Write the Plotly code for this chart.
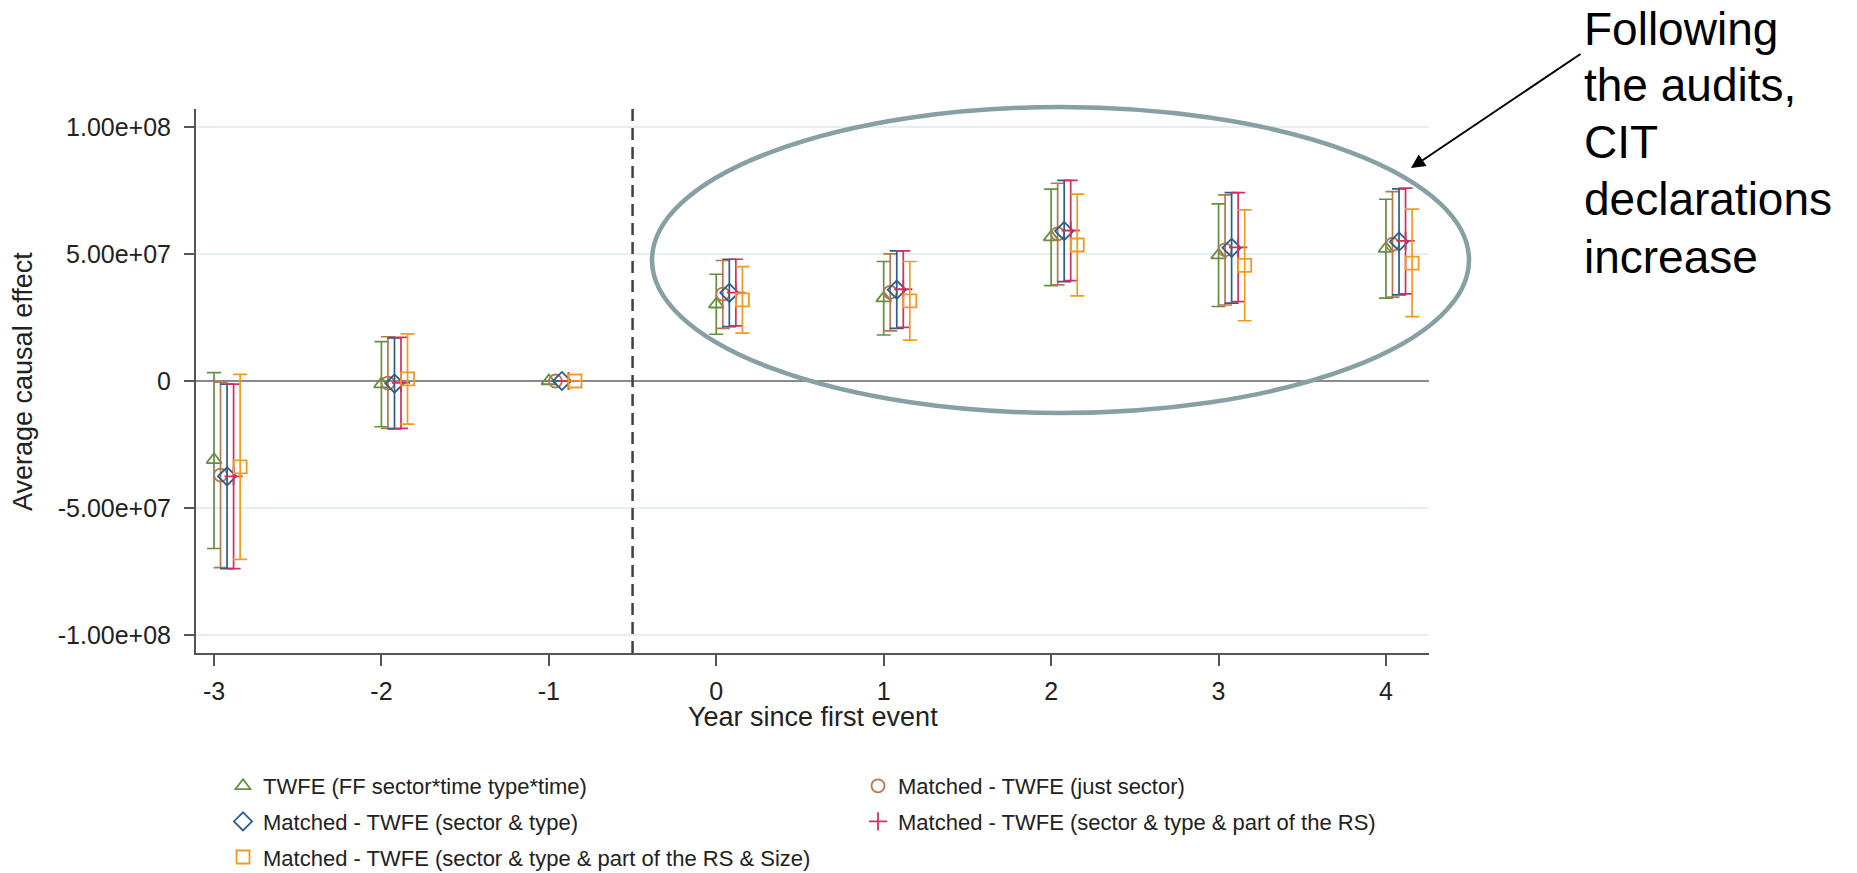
import plotly.graph_objects as go

# ---------------- data (values in millions) ----------------
years = [-3, -2, -1, 0, 1, 2, 3, 4]

names = [
    "TWFE (FF sector*time type*time)",
    "Matched - TWFE (just sector)",
    "Matched - TWFE (sector & type)",
    "Matched - TWFE (sector & type & part of the RS)",
    "Matched - TWFE (sector & type & part of the RS & Size)",
]

twfe_coef = [-31.0, -1.2, 0.0, 30.2, 32.6, 56.6, 49.5, 52.1]
twfe_lo = [-65.9, -18.0, 0.0, 18.4, 18.1, 37.5, 29.3, 32.6]
twfe_hi = [3.3, 15.5, 0.0, 42.0, 47.0, 75.5, 69.7, 71.5]

sector_coef = [-37.0, -0.8, 0.0, 34.2, 34.9, 57.9, 51.6, 53.8]
sector_lo = [-73.4, -18.6, 0.0, 20.7, 19.7, 37.8, 29.9, 33.0]
sector_hi = [-0.5, 17.4, 0.0, 47.4, 50.0, 77.8, 73.2, 74.5]

type_coef = [-37.5, -1.0, 0.0, 34.7, 35.9, 59.0, 52.4, 54.8]
type_lo = [-73.8, -18.8, 0.0, 21.4, 20.7, 39.1, 30.6, 33.9]
type_hi = [-1.2, 17.0, 0.0, 47.9, 51.2, 78.9, 74.1, 75.6]

rs_coef = [-37.5, -0.7, 0.0, 34.8, 36.1, 59.2, 52.6, 55.1]
rs_lo = [-73.8, -18.6, 0.0, 21.7, 21.1, 39.5, 31.2, 34.3]
rs_hi = [-1.2, 17.2, 0.0, 47.9, 51.2, 78.9, 74.1, 75.9]

size_coef = [-33.8, 0.8, 0.0, 31.9, 31.5, 53.5, 45.5, 46.4]
size_lo = [-70.2, -17.0, 0.0, 18.8, 16.1, 33.5, 23.7, 25.3]
size_hi = [2.6, 18.5, 0.0, 45.0, 47.0, 73.5, 67.3, 67.6]

y_tickvals = [-1e8, -5e7, 0, 5e7, 1e8]
y_ticktext = ["-1.00e+08", "-5.00e+07", "0", "5.00e+07", "1.00e+08"]
x_tickvals = [-3, -2, -1, 0, 1, 2, 3, 4]
x_ticktext = ["-3", "-2", "-1", "0", "1", "2", "3", "4"]

event_line_x = -0.5
annotation_lines = ["Following", "the audits,", "CIT", "declarations", "increase"]

# ---------------- style ----------------
UNIT = 1e6
W, H = 1857, 873
ML, MR, MT, MB = 196, 428, 109, 220
PW, PH = W - ML - MR, H - MT - MB

colors = ["#62903f", "#b57752", "#2e5c8c", "#d42f5c", "#f29a22"]
symbols = ["triangle-up-open", "circle-open", "diamond-open", "cross-thin-open", "square-open"]
msizes = [13, 13, 14, 13, 13]
dodge = [0.0, 0.039, 0.078, 0.117, 0.156]
legend_of = ["legend", "legend2", "legend", "legend2", "legend"]

coefs = [twfe_coef, sector_coef, type_coef, rs_coef, size_coef]
los = [twfe_lo, sector_lo, type_lo, rs_lo, size_lo]
his = [twfe_hi, sector_hi, type_hi, rs_hi, size_hi]


def px_x(p):
    return (p - ML) / PW


def px_y(p):
    return (H - MB - p) / PH


fig = go.Figure()
for i in range(5):
    c = [v * UNIT for v in coefs[i]]
    up = [(h - v) * UNIT for h, v in zip(his[i], coefs[i])]
    dn = [(v - l) * UNIT for l, v in zip(los[i], coefs[i])]
    fig.add_trace(go.Scatter(
        x=[yr + dodge[i] for yr in years],
        y=c,
        mode="markers",
        name=names[i],
        legend=legend_of[i],
        legendgroup="g%d" % i,
        marker=dict(symbol=symbols[i], size=msizes[i], color=colors[i],
                    line=dict(width=1.8, color=colors[i])),
        error_y=dict(type="data", symmetric=False, array=up, arrayminus=dn,
                     color=colors[i], thickness=1.7, width=7),
    ))

fig.add_shape(type="line", xref="x", yref="paper", x0=event_line_x, x1=event_line_x,
              y0=0, y1=1, line=dict(color="#404040", width=2.5, dash="12px,7px"), layer="above")

# ellipse highlighting post-audit years (pixel geometry -> paper)
fig.add_shape(type="circle", xref="paper", yref="paper",
              x0=px_x(652), x1=px_x(1469), y0=px_y(413), y1=px_y(107),
              line=dict(color="#86a0a3", width=4.5), fillcolor="rgba(0,0,0,0)", layer="above")

# arrow
fig.add_annotation(xref="paper", yref="paper", x=px_x(1411), y=px_y(168), text="",
                   showarrow=True, ax=171, ay=-115, axref="pixel", ayref="pixel",
                   arrowhead=2, arrowsize=1.4, arrowwidth=2, arrowcolor="black", standoff=0)

# text annotation lines
baselines = [45, 101, 158, 215, 273]
for t, b in zip(annotation_lines, baselines):
    fig.add_annotation(xref="paper", yref="paper", x=px_x(1582), y=px_y(b - 16),
                       xanchor="left", yanchor="middle", text=t, showarrow=False,
                       font=dict(family="Liberation Sans, Arial", size=46, color="black"))

# axis titles
fig.add_annotation(xref="paper", yref="paper", x=px_x(23), y=0.5, text="Average causal effect",
                   textangle=-90, showarrow=False, xanchor="center", yanchor="middle",
                   font=dict(family="Liberation Sans, Arial", size=27, color="#222222"))
fig.add_annotation(xref="paper", yref="paper", x=0.5, y=px_y(717), text="Year since first event",
                   showarrow=False, xanchor="center", yanchor="middle",
                   font=dict(family="Liberation Sans, Arial", size=27, color="#222222"))

legend_common = dict(orientation="v", xanchor="left", yanchor="top",
                     bgcolor="rgba(0,0,0,0)", tracegroupgap=4,
                     font=dict(family="Liberation Sans, Arial", size=22, color="#222222"))

fig.update_layout(
    width=W, height=H,
    margin=dict(l=ML, r=MR, t=MT, b=MB, autoexpand=False),
    paper_bgcolor="white", plot_bgcolor="white",
    font=dict(family="Liberation Sans, Arial", color="#222222"),
    showlegend=True,
    legend=dict(x=px_x(223), y=px_y(765), **legend_common),
    legend2=dict(x=px_x(858), y=px_y(765), **legend_common),
    xaxis=dict(range=[-3.1075, 4.257], tickvals=x_tickvals, ticktext=x_ticktext,
               showgrid=False, zeroline=False,
               showline=True, linecolor="#555555", linewidth=2, ticks="outside", ticklen=11,
               tickwidth=1.5, tickcolor="#555555", tickfont=dict(size=25, color="#222222"),
               ticklabelstandoff=4),
    yaxis=dict(range=[-1.07e8, 1.07e8], tickvals=y_tickvals, ticktext=y_ticktext,
               showgrid=True, gridcolor="#e6efef", gridwidth=2,
               zeroline=True, zerolinecolor="#8a8a8a", zerolinewidth=2,
               showline=True, linecolor="#555555", linewidth=2, ticks="outside", ticklen=10,
               tickwidth=1.5, tickcolor="#555555", tickfont=dict(size=25, color="#222222"),
               ticklabelstandoff=8),
)

fig.write_html("out.html")
